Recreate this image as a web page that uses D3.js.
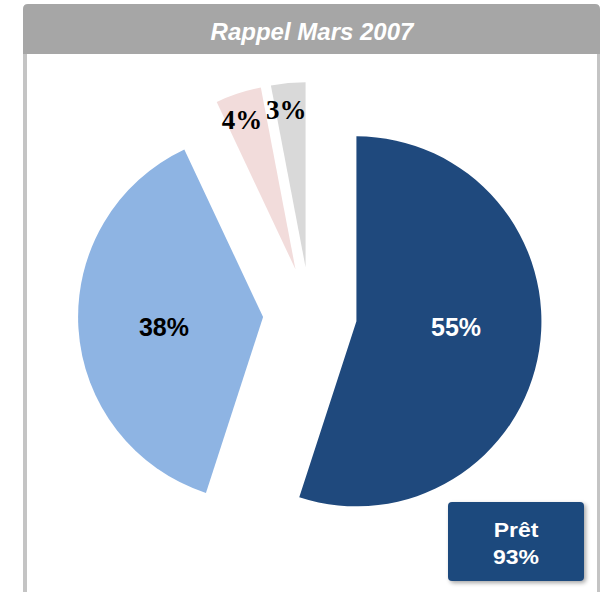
<!doctype html>
<html lang="fr">
<head>
  <meta charset="utf-8">
  <title>Rappel Mars 2007</title>
  <script src="https://cdn.jsdelivr.net/npm/d3@7"></script>
  <style>
    body { margin: 0; background: #fff; }
    svg { display: block; }
  </style>
</head>
<body>
<div id="chart"></div>

<script>
// data
var categories = ["Prêt A", "Prêt B", "Non prêt A", "Non prêt B"];
var values = [55, 38, 4, 3];
var labels = ["55%", "38%", "4%", "3%"];
var colors = ["#1f497d", "#8eb4e3", "#f2dcdb", "#d9d9d9"];
var title = "Rappel Mars 2007";
var boxLines = ["Prêt", "93%"];

var width = 603, height = 592;
var cx = 310, cy = 314, radius = 185, explode = 47;

var svg = d3.select("#chart").append("svg")
    .attr("width", width)
    .attr("height", height);

var defs = svg.append("defs");
var sh = defs.append("filter").attr("id", "shadow")
    .attr("x", "-10%").attr("y", "-10%").attr("width", "130%").attr("height", "130%");
sh.append("feDropShadow").attr("dx", 2).attr("dy", 2).attr("stdDeviation", 2)
    .attr("flood-color", "#000").attr("flood-opacity", 0.35);

// frame
svg.append("rect").attr("x", 23).attr("y", 40).attr("width", 4).attr("height", height)
    .attr("fill", "#c4c4c4");
svg.append("rect").attr("x", 597).attr("y", 40).attr("width", 3).attr("height", height)
    .attr("fill", "#c4c4c4");

// title bar
svg.append("path")
    .attr("d", "M23,54 L23,9 Q23,4 28,4 L595,4 Q600,4 600,9 L600,54 Z")
    .attr("fill", "#a6a6a6");
svg.append("text")
    .attr("x", 312).attr("y", 40)
    .attr("text-anchor", "middle")
    .attr("font-family", "Liberation Sans, Arial, sans-serif")
    .attr("font-size", 24).attr("font-weight", "bold").attr("font-style", "italic")
    .attr("fill", "#fff")
    .text(title);

// pie, every slice pulled out along its bisector
var pie = d3.pie().sort(null).value(function(d) { return d; });
var arcs = pie(values);
var arc = d3.arc().innerRadius(0).outerRadius(radius);

var g = svg.append("g").attr("transform", "translate(" + cx + "," + cy + ")");

function offset(d) {
  var a = (d.startAngle + d.endAngle) / 2;
  return [explode * Math.sin(a), -explode * Math.cos(a)];
}

var slice = g.selectAll("g.slice").data(arcs).enter().append("g")
    .attr("class", "slice")
    .attr("transform", function(d) { var o = offset(d); return "translate(" + o[0] + "," + o[1] + ")"; });

slice.append("path")
    .attr("d", arc)
    .attr("fill", function(d, i) { return colors[i]; });

slice.append("text")
    .attr("transform", function(d) {
      var big = d.value > 10;
      var a = (d.startAngle + d.endAngle) / 2 - (big ? 4 : 1.5) * Math.PI / 180;
      var r = big ? 100 : 160;
      return "translate(" + (r * Math.sin(a)) + "," + (-r * Math.cos(a)) + ")";
    })
    .attr("dy", function(d) { return d.value > 10 ? "0.22em" : "0.4em"; })
    .attr("text-anchor", "middle")
    .attr("font-family", function(d) { return d.value > 10 ? "Liberation Sans, Arial, sans-serif" : "Liberation Serif, Times New Roman, serif"; })
    .attr("font-size", function(d) { return d.value > 10 ? 25 : 27; })
    .attr("font-weight", "bold")
    .attr("fill", function(d, i) { return i === 0 ? "#fff" : "#000"; })
    .text(function(d, i) { return labels[i]; });

// summary box
var box = svg.append("g").attr("transform", "translate(448,502)");
box.append("rect")
    .attr("width", 136).attr("height", 79).attr("rx", 4)
    .attr("fill", "#1f497d")
    .attr("filter", "url(#shadow)");
box.selectAll("text").data(boxLines).enter().append("text")
    .attr("transform", function(d, i) { return "translate(68," + (35 + i * 27) + ") scale(1.15,1)"; })
    .attr("text-anchor", "middle")
    .attr("font-family", "Liberation Sans, Arial, sans-serif")
    .attr("font-size", 20).attr("font-weight", "bold")
    .attr("fill", "#fff")
    .text(function(d) { return d; });
</script>
</body>
</html>
